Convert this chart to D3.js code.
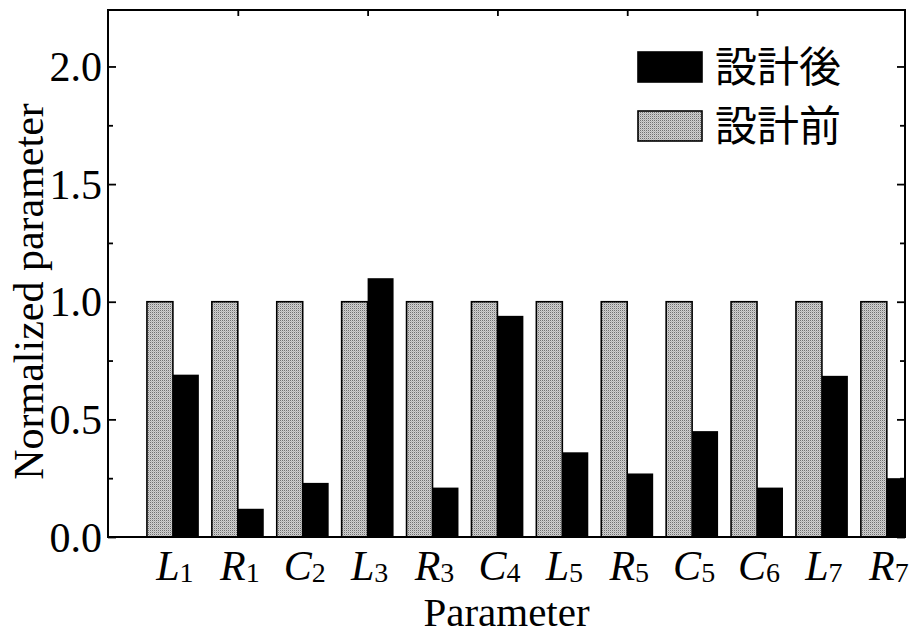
<!DOCTYPE html>
<html><head><meta charset="utf-8">
<script src="https://cdn.jsdelivr.net/npm/d3@7"></script>
<style>body{margin:0;background:#fff}svg{display:block}</style>
</head><body>
<svg id="c" width="911" height="634"></svg>
<script>
const catLetters = ["L","R","C","L","R","C","L","R","C","C","L","R"];
const catSubs    = ["1","1","2","3","3","4","5","5","5","6","7","7"];
const beforeVals = [1,1,1,1,1,1,1,1,1,1,1,1];
const afterVals  = [0.69,0.12,0.23,1.10,0.21,0.94,0.36,0.27,0.45,0.21,0.685,0.25];
const yTicks = [0,0.5,1.0,1.5,2.0];
const yMinorTicks = [0.25,0.75,1.25,1.75];
const topTicks = [2,4,6,8,10];
const legendLabels = ["設計後","設計前"];

const svg = d3.select("#c");
const L=108,R=905,T=10,B=537;
const x = d3.scaleLinear().domain([0,12.28]).range([L,R]);
const y = d3.scaleLinear().domain([0,2.24]).range([B,T]);
const bw = x(0.4)-x(0);

const defs = svg.append("defs");
const pat = defs.append("pattern").attr("id","dots").attr("patternUnits","userSpaceOnUse")
  .attr("width",2).attr("height",2);
pat.append("rect").attr("width",2).attr("height",2).attr("fill","#d0d0d0");
pat.append("rect").attr("width",1).attr("height",1).attr("fill","#707070");
pat.append("rect").attr("x",1).attr("y",1).attr("width",1).attr("height",1).attr("fill","#b4b4b4");
defs.append("clipPath").attr("id","clip").append("rect")
  .attr("x",L).attr("y",T).attr("width",R-L).attr("height",B-T);

const serif = "'Liberation Serif','Times New Roman',serif";

// bars
const g = svg.append("g").attr("clip-path","url(#clip)");
const idx = d3.range(catLetters.length);
g.selectAll(".gb").data(idx).join("rect")
  .attr("x",i=>x(i+1)-bw).attr("width",bw)
  .attr("y",i=>y(beforeVals[i])).attr("height",i=>y(0)-y(beforeVals[i]))
  .attr("fill","url(#dots)").attr("stroke","#000").attr("stroke-width",1.6);
g.selectAll(".bb").data(idx).join("rect")
  .attr("x",i=>x(i+1)).attr("width",bw)
  .attr("y",i=>y(afterVals[i])).attr("height",i=>y(0)-y(afterVals[i]))
  .attr("fill","#000");

// frame
svg.append("rect").attr("x",L).attr("y",T).attr("width",R-L).attr("height",B-T)
  .attr("fill","none").attr("stroke","#000").attr("stroke-width",2);

// y axes
const yl = svg.append("g").attr("transform",`translate(${L},0)`)
  .call(d3.axisRight(y).tickValues(yTicks).tickSize(8).tickFormat(""));
const ylm = svg.append("g").attr("transform",`translate(${L},0)`)
  .call(d3.axisRight(y).tickValues(yMinorTicks).tickSize(5).tickFormat(""));
const yr = svg.append("g").attr("transform",`translate(${R},0)`)
  .call(d3.axisLeft(y).tickValues(yTicks).tickSize(8).tickFormat(""));
const yrm = svg.append("g").attr("transform",`translate(${R},0)`)
  .call(d3.axisLeft(y).tickValues(yMinorTicks).tickSize(5).tickFormat(""));
const xt = svg.append("g").attr("transform",`translate(0,${T})`)
  .call(d3.axisBottom(x).tickValues(topTicks).tickSize(6).tickFormat(""));
[yl,ylm,yr,yrm,xt].forEach(a=>{a.select(".domain").remove();a.selectAll("line").attr("stroke","#000").attr("stroke-width",1.8);});

// y tick labels
svg.append("g").selectAll("text").data(yTicks).join("text")
  .attr("x",L-6).attr("y",d=>y(d)).attr("dy","0.35em")
  .attr("text-anchor","end").attr("font-family",serif).attr("font-size",42)
  .text(d=>d.toFixed(1));

// x tick labels
const xl = svg.append("g").selectAll("text").data(idx).join("text")
  .attr("x",i=>x(i+1)+2).attr("y",580).attr("text-anchor","middle")
  .attr("font-family",serif).attr("font-size",42);
xl.append("tspan").attr("font-style","italic").text(i=>catLetters[i]);
xl.append("tspan").attr("font-size",28).attr("dy",2).text(i=>catSubs[i]);

// axis titles
svg.append("text").attr("x",(L+R)/2).attr("y",626).attr("text-anchor","middle")
  .attr("font-family",serif).attr("font-size",41).text("Parameter");
svg.append("text").attr("transform",`translate(43,${(T+B)/2+18}) rotate(-90)`)
  .attr("text-anchor","middle").attr("font-family",serif).attr("font-size",42)
  .text("Normalized parameter");

// legend
const lg = svg.append("g");
const lfill = ["#000","url(#dots)"];
const lys = [52,111];
lg.selectAll("rect").data([0,1]).join("rect")
  .attr("x",638).attr("y",i=>lys[i]).attr("width",64).attr("height",30)
  .attr("fill",i=>lfill[i]).attr("stroke","#000").attr("stroke-width",1.6);
lg.selectAll("text").data([0,1]).join("text")
  .attr("x",715).attr("y",i=>lys[i]+15).attr("dy","0.36em")
  .attr("font-family","'Noto Sans CJK JP',sans-serif").attr("font-size",42)
  .text(i=>legendLabels[i]);
</script>
</body></html>
